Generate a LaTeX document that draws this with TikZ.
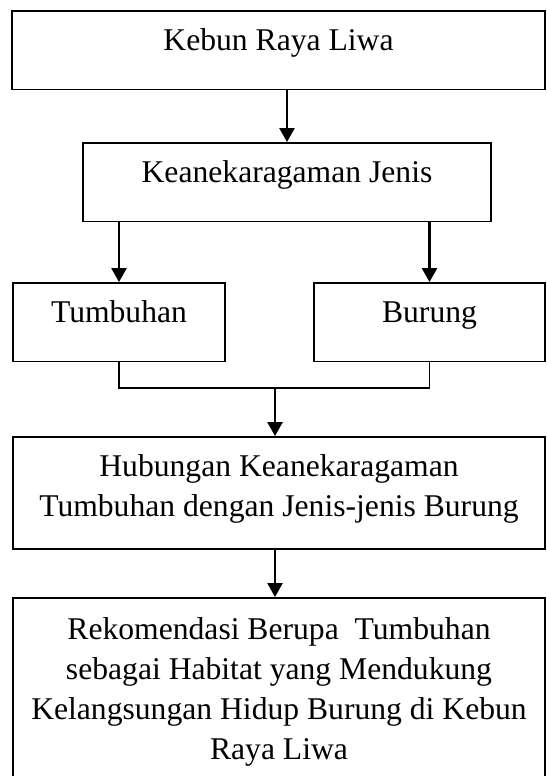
\documentclass[tikz,border=0pt]{standalone}
\usepackage{fontspec}
\setmainfont{Liberation Serif}
\usetikzlibrary{arrows.meta}

\begin{document}
\begin{tikzpicture}[
  font=\fontsize{22.5}{28.45}\selectfont,
  box/.style={draw=black,line width=1.2pt,anchor=north,inner xsep=0pt,inner ysep=0pt,align=center,text height=0.99cm,text depth=0.98cm},
  flow/.style={-{Triangle[length=3.5mm,width=3.8mm]},line width=1.5pt},
  link/.style={line width=1.2pt}
]
\useasboundingbox (0,0) rectangle (13.65,-19.4);
\clip (0,0) rectangle (13.65,-19.4);

\node[box,minimum width=13.325cm] (kebun) at (6.9625,-0.25) {Kebun Raya Liwa};
\node[box,minimum width=10.2cm] (jenis) at (7.175,-3.55) {Keanekaragaman Jenis};
\node[box,minimum width=5.3cm] (tumbuhan) at (2.975,-7.05) {Tumbuhan};
\node[box,minimum width=5.775cm] (burung) at (10.7375,-7.05) {Burung};
\node[box,minimum width=13.3cm,text height=1.99cm,text depth=0.81cm] (hubungan) at (6.975,-10.9) {Hubungan Keanekaragaman\\Tumbuhan dengan Jenis-jenis Burung};
\node[box,minimum width=13.3cm,text height=4.05cm,text depth=0.8cm] (rekomendasi) at (6.975,-14.925) {Rekomendasi Berupa\ \ Tumbuhan\\sebagai Habitat yang Mendukung\\Kelangsungan Hidup Burung di Kebun\\Raya Liwa};
\coordinate (join) at (6.875,-9.7);

\draw[flow] (jenis.north |- kebun.south) -- (jenis.north);
\draw[flow] (tumbuhan.north |- jenis.south) -- (tumbuhan.north);
\draw[flow] (burung.north |- jenis.south) -- (burung.north);
\draw[link] (tumbuhan.south) |- (join) -| (burung.south);
\draw[flow] (join) -- (join |- hubungan.north);
\draw[flow] (join |- hubungan.south) -- (join |- rekomendasi.north);
\end{tikzpicture}
\end{document}
